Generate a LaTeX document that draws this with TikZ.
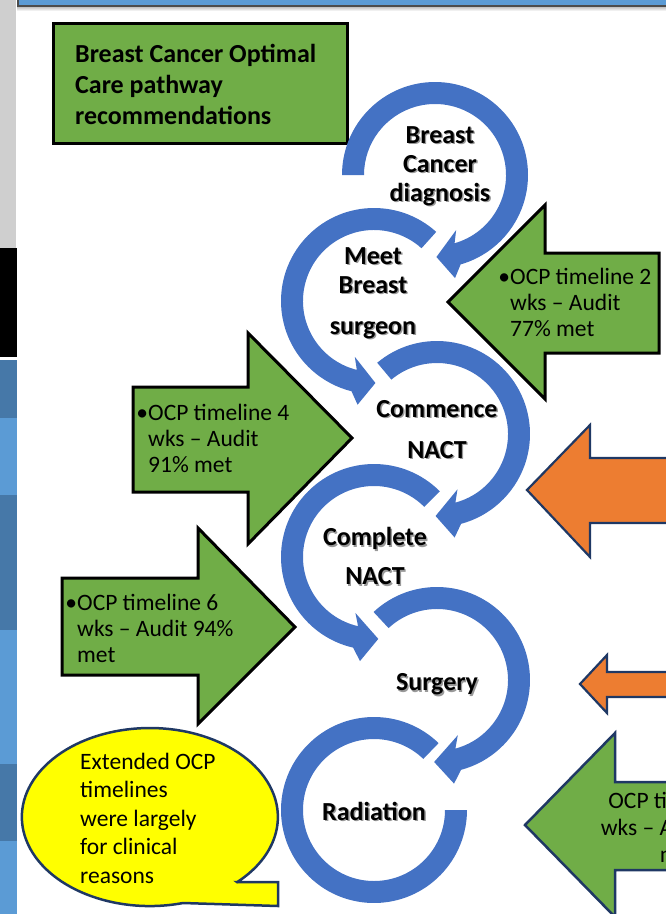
\documentclass[tikz,border=0pt]{standalone}
\usepackage{fontspec}
\setmainfont{Carlito}
\usepackage{tikz}
\usetikzlibrary{positioning}

\definecolor{ringblue}{HTML}{4472C4}
\definecolor{okgreen}{HTML}{70AD47}
\definecolor{warnorange}{HTML}{ED7D31}
\definecolor{navy}{HTML}{1F3864}
\definecolor{stripdark}{HTML}{4678A8}
\definecolor{striplight}{HTML}{5B9BD5}
\definecolor{stripgray}{HTML}{CFCFCF}
\definecolor{noteyellow}{HTML}{FFFF00}

% text with a soft shadow
\newcommand{\shd}[1]{\makebox[0pt][l]{\hspace{1.4pt}\raisebox{-1.4pt}{\textcolor{black!40}{#1}}}#1}

% circular arrow: centre, start angle, end of body, tip angle
\newcommand{\ringarrow}[4]{%
  \fill [ring] ([shift={(#2:93)}]#1) arc [start angle=#2, end angle=#3, radius=93]
    -- ([shift={({#3+(#4-#3)/3}:105)}]#1) -- ([shift={(#4:82)}]#1)
    -- ([shift={({#3-(#4-#3)/3}:59)}]#1) -- ([shift={(#3:71)}]#1)
    arc [start angle=#3, end angle=#2, radius=71] -- cycle;}

\begin{document}
\begin{tikzpicture}[x=1pt, y=-1pt,
    ring/.style={fill=ringblue},
    ringtext/.style={align=center, inner sep=0pt, font=\fontsize{26}{29}\selectfont\bfseries},
    bullettext/.style={align=left, inner sep=0pt, anchor=west, font=\fontsize{23.5}{26}\selectfont},
    okarrow/.style={fill=okgreen, draw=black, line width=3pt, line join=miter},
    warnarrow/.style={fill=warnorange, draw=navy, line width=2.2pt, line join=miter}]

    \useasboundingbox (0,0) rectangle (666,914);
    \clip (0,0) rectangle (666,914);

    % slide edges
    \fill [stripgray] (0,0) rectangle (16,248);
    \fill [black] (0,248) rectangle (17,357);
    \foreach \ya/\yb/\col in {360/418/stripdark, 418/495/striplight, 495/630/stripdark,
                              630/764/striplight, 764/841/stripdark, 841/914/striplight}
        \fill [\col] (0,\ya) rectangle (17,\yb);
    \shade [top color=black!35, bottom color=white] (17,5) rectangle (666,11);
    \fill [striplight] (17,0) rectangle (666,5);
    \draw [black!70, line width=1.5pt] (17.75,0) -- (17.75,5.75) -- (666,5.75);

    % title
    \draw [fill=okgreen, line width=3pt] (53,23) rectangle (347,143);
    \node (title) [anchor=west, align=left, inner sep=0pt, font=\fontsize{26}{31}\selectfont\bfseries]
        at (75,84) {Breast Cancer Optimal\\Care pathway\\recommendations};

    % pathway rings
    \coordinate (diagC) at (435,175);
    \coordinate (meetC) at (374,301);
    \coordinate (nactC) at (437,434);
    \coordinate (doneC) at (374,557);
    \coordinate (surgC) at (437,680);
    \coordinate (radC)  at (374,810);

    \ringarrow{diagC}{180}{434}{449}
    \ringarrow{meetC}{-48}{-256}{-271}
    \ringarrow{nactC}{230}{435}{451}
    \ringarrow{doneC}{-45}{-257}{-273}
    \ringarrow{surgC}{227}{435}{452}
    \fill [ring] ([shift={(-46:93)}]radC) arc [start angle=-46, end angle=-360, radius=93]
        -- ([shift={(0:71)}]radC) arc [start angle=-360, end angle=-46, radius=71] -- cycle;

    \node (diag) [ringtext] at (440,167) {\shd{Breast}\\\shd{Cancer}\\\shd{diagnosis}};
    \node (meet) [ringtext] at (373,294) {\shd{Meet}\\\shd{Breast}\\[12pt]\shd{surgeon}};
    \node (commence) [ringtext] at (437,430) {\shd{Commence}\\[12pt]\shd{NACT}};
    \node (complete) [ringtext] at (375,557) {\shd{Complete}\\[10pt]\shd{NACT}};
    \node (surgery) [ringtext] at (437,685) {\shd{Surgery}};
    \node (radiation) [ringtext] at (374,812) {\shd{Radiation}};

    % timeline arrows
    \draw [okarrow] (659,253) -- (545,253) -- (545,205) -- (448,302) -- (545,399) -- (545,353) -- (659,353) -- cycle;
    \draw [okarrow] (133,387) -- (248,387) -- (248,333) -- (352,438) -- (248,544) -- (248,492) -- (133,492) -- cycle;
    \draw [okarrow] (62,578) -- (198,578) -- (198,528) -- (295,627) -- (198,724) -- (198,675) -- (62,675) -- cycle;
    \draw [okarrow, draw=navy, line width=2.5pt] (690,782) -- (615,782) -- (615,733) -- (525,825) -- (615,917) -- (615,870) -- (690,870);
    \draw [warnarrow] (690,458) -- (590,458) -- (590,425) -- (527,490) -- (590,557) -- (590,523) -- (690,523);
    \draw [warnarrow] (690,672) -- (607,672) -- (607,655) -- (580,684) -- (607,713) -- (607,697) -- (690,697);

    \node (ocptwo) [bullettext] at (510,302) {\llap{\textbullet}OCP timeline 2\\wks -- Audit\\77\% met};
    \node (ocpfour) [bullettext] at (148,438) {\llap{\textbullet}OCP timeline 4\\wks -- Audit\\91\% met};
    \node (ocpsix) [bullettext] at (77,628) {\llap{\textbullet}OCP timeline 6\\wks -- Audit 94\%\\met};
    \node (ocpedge) [align=center, inner sep=0pt, font=\fontsize{23.5}{27}\selectfont]
        at (679,827) {OCP timeline\phantom{ 0}\\wks -- Audit\phantom{ 00\%}\\met};

    % note
    \draw [fill=noteyellow, draw=navy, line width=2.5pt, line join=miter]
        (237,882) -- (278,882) -- (278,906) -- (183,903)
        arc [start angle=75, end angle=407, x radius=128, y radius=89] -- cycle;
    \node (note) [anchor=west, align=left, inner sep=0pt, font=\fontsize{23.5}{28.5}\selectfont]
        at (80,818) {Extended OCP\\timelines\\were largely\\for clinical\\reasons};

\end{tikzpicture}
\end{document}
